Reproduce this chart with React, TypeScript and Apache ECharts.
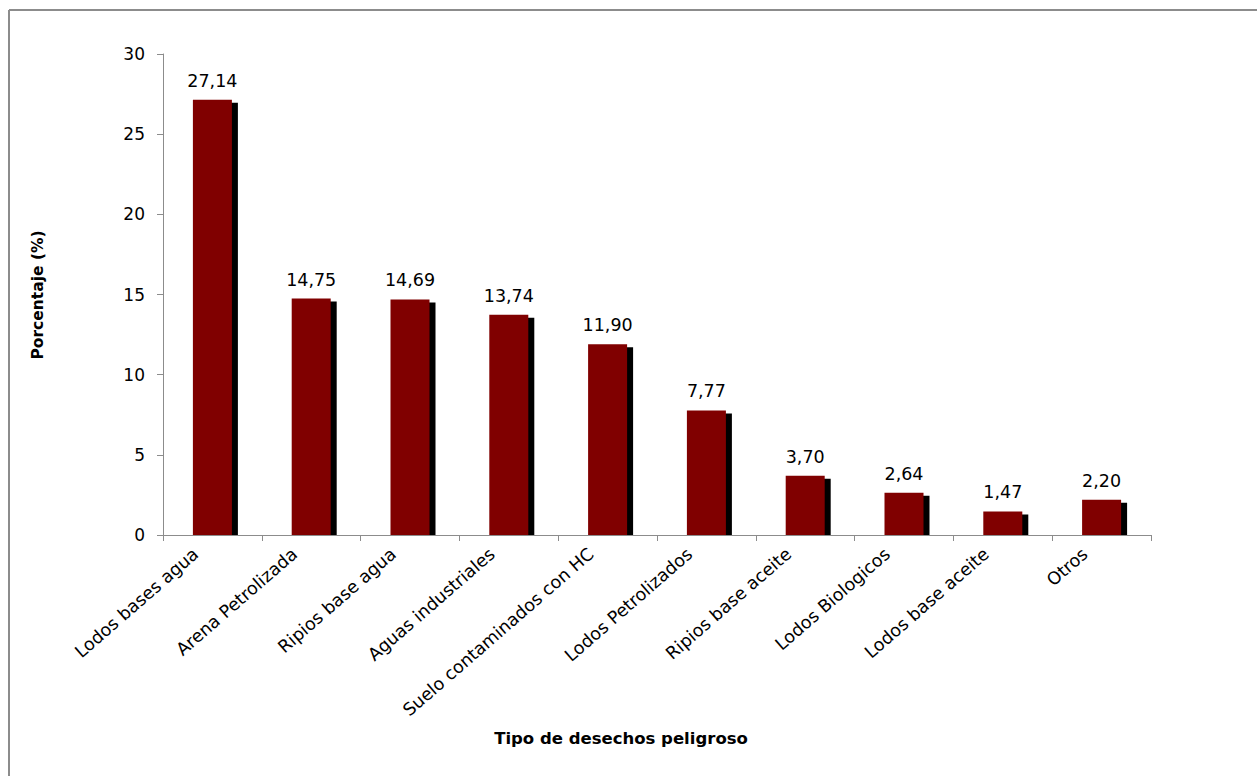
import React, { useEffect, useRef } from "react";
import * as echarts from "echarts";

const categories = [
  "Lodos bases agua",
  "Arena Petrolizada",
  "Ripios base agua",
  "Aguas industriales",
  "Suelo contaminados con HC",
  "Lodos Petrolizados",
  "Ripios base aceite",
  "Lodos Biologicos",
  "Lodos base aceite",
  "Otros",
];
const values = [27.14, 14.75, 14.69, 13.74, 11.9, 7.77, 3.7, 2.64, 1.47, 2.2];
const yTicks = { min: 0, max: 30, interval: 5 };
const yTitle = "Porcentaje (%)";
const xTitle = "Tipo de desechos peligroso";

const FONT = "'DejaVu Sans', Verdana, sans-serif";

export default function App() {
  const ref = useRef<HTMLDivElement>(null);
  useEffect(() => {
    if (!ref.current) return;
    const chart = echarts.init(ref.current, undefined, { renderer: "svg" });
    const BAR_W = 39;
    chart.setOption({
      animation: false,
      backgroundColor: "#ffffff",
      grid: { left: 163, right: 106, top: 54, bottom: 241 },
      xAxis: {
        type: "category",
        data: categories,
        axisLine: { lineStyle: { color: "#8c8c8c", width: 1 } },
        axisTick: { show: true, length: 6, lineStyle: { color: "#8c8c8c" } },
        axisLabel: {
          rotate: 41,
          interval: 0,
          margin: 2,
          color: "#000",
          fontSize: 17.5,
          fontFamily: FONT,
          padding: [0, 22, 0, 0],
        },
      },
      yAxis: {
        type: "value",
        min: yTicks.min,
        max: yTicks.max,
        interval: yTicks.interval,
        splitLine: { show: false },
        axisLine: { show: true, lineStyle: { color: "#8c8c8c", width: 1 } },
        axisTick: { show: true, length: 6, lineStyle: { color: "#8c8c8c" } },
        axisLabel: {
          color: "#000",
          fontSize: 17,
          fontFamily: FONT,
          margin: 18,
        },
      },
      series: [
        {
          type: "custom",
          z: 1,
          data: values.map((v, i) => [i, v]),
          renderItem: (params: any, api: any) => {
            const idx = api.value(0);
            const top = api.coord([idx, api.value(1)]);
            const base = api.coord([idx, 0]);
            const x = top[0] - BAR_W / 2 + 6;
            const y = top[1] + 3;
            return {
              type: "rect",
              shape: { x, y, width: BAR_W, height: base[1] - y },
              style: { fill: "#000000" },
            };
          },
        },
        {
          type: "bar",
          z: 3,
          data: values,
          barWidth: BAR_W,
          itemStyle: { color: "#800000" },
          label: {
            show: true,
            position: "top",
            distance: 10,
            color: "#000",
            fontSize: 17.5,
            fontFamily: FONT,
            formatter: (p: any) => p.value.toFixed(2).replace(".", ","),
          },
        },
      ],
      graphic: [
        {
          type: "line",
          shape: { x1: 9, y1: 10, x2: 1257, y2: 10 },
          style: { stroke: "#8c8c8c", lineWidth: 2 },
        },
        {
          type: "line",
          shape: { x1: 9, y1: 10, x2: 9, y2: 776 },
          style: { stroke: "#8c8c8c", lineWidth: 2 },
        },
        {
          type: "text",
          x: 38,
          y: 295,
          rotation: Math.PI / 2,
          style: {
            text: yTitle,
            fill: "#000",
            font: `bold 15.5px ${FONT}`,
            textAlign: "center",
            textVerticalAlign: "middle",
          },
        },
        {
          type: "text",
          x: 621,
          y: 738,
          style: {
            text: xTitle,
            fill: "#000",
            font: `bold 16.5px ${FONT}`,
            textAlign: "center",
            textVerticalAlign: "middle",
          },
        },
      ],
    });
    return () => chart.dispose();
  }, []);
  return (
    <div
      ref={ref}
      style={{ position: "fixed", left: 0, top: 0, width: 1257, height: 776 }}
    />
  );
}
